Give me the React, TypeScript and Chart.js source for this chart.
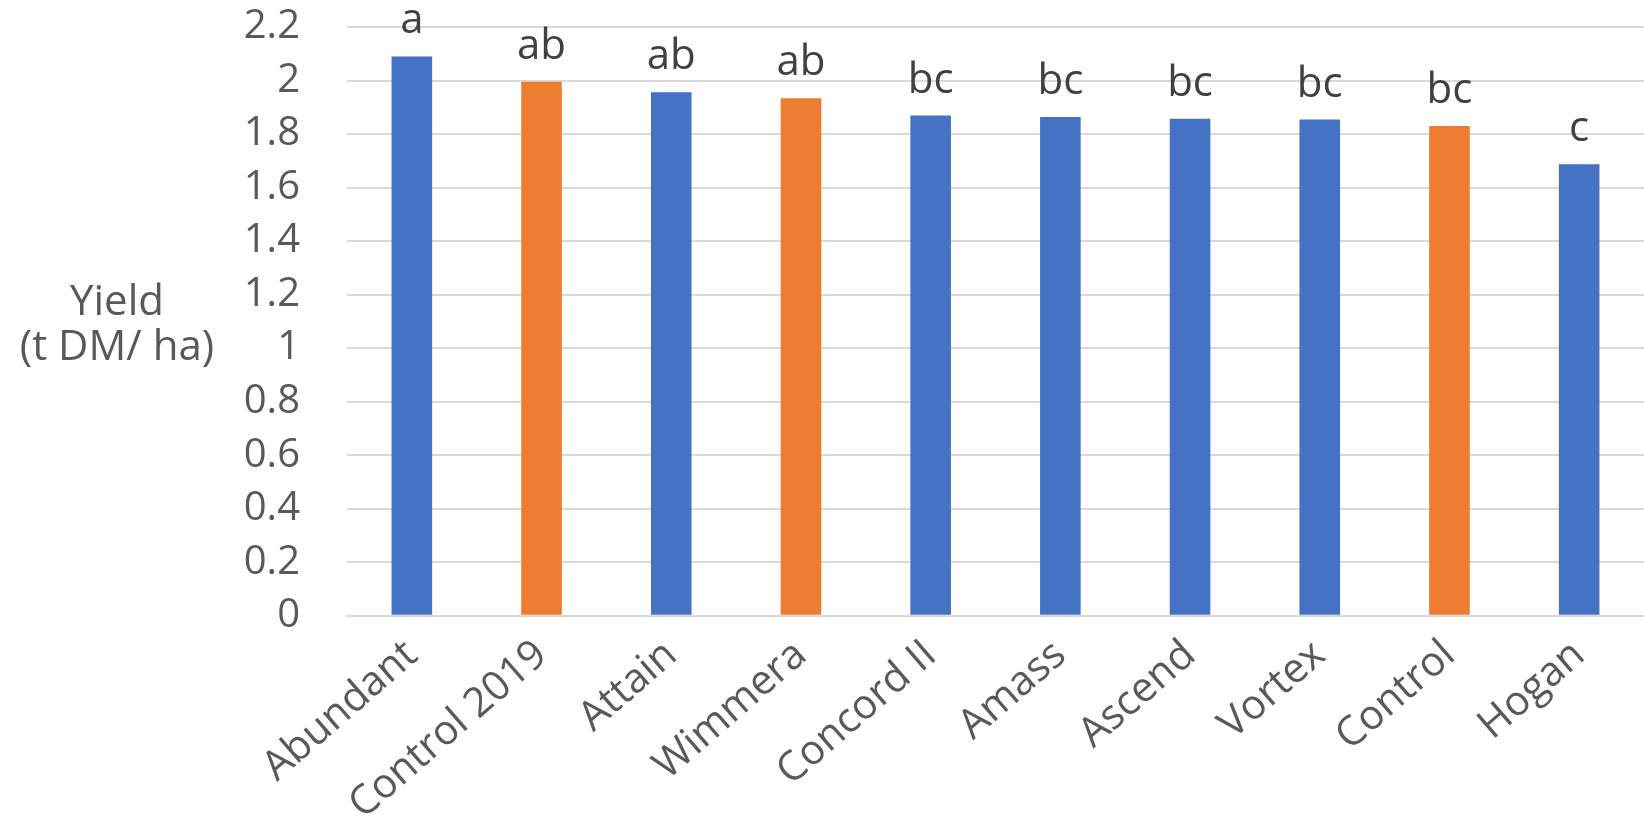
import React, { useEffect, useRef } from "react";
import { Chart, registerables } from "chart.js";

Chart.register(...registerables);

const categories = [
  "Abundant",
  "Control 2019",
  "Attain",
  "Wimmera",
  "Concord II",
  "Amass",
  "Ascend",
  "Vortex",
  "Control",
  "Hogan",
];
const yields = [2.09, 1.995, 1.956, 1.934, 1.869, 1.864, 1.857, 1.854, 1.83, 1.687];
const letters = ["a", "ab", "ab", "ab", "bc", "bc", "bc", "bc", "bc", "c"];
const isControl = [false, true, false, true, false, false, false, false, true, false];
const yTitleLines = ["Yield", "(t DM/ ha)"];

const BLUE = "#4472C4";
const ORANGE = "#ED7D31";
const FONT = "'Open Sans', 'Noto Sans', sans-serif";

const overlayPlugin = {
  id: "overlay",
  afterDatasetsDraw(chart: any) {
    const ctx = chart.ctx;
    const meta = chart.getDatasetMeta(0);
    ctx.save();
    ctx.fillStyle = "#404040";
    ctx.font = `42px ${FONT}`;
    ctx.textAlign = "center";
    ctx.textBaseline = "alphabetic";
    meta.data.forEach((bar: any, i: number) => {
      ctx.fillText(letters[i], bar.x, bar.y - 23);
    });
    ctx.restore();
  },
  afterDraw(chart: any) {
    const ctx = chart.ctx;
    const area = chart.chartArea;
    const mid = (area.top + area.bottom) / 2;
    ctx.save();
    ctx.fillStyle = "#595959";
    ctx.font = `42px ${FONT}`;
    ctx.textAlign = "center";
    ctx.textBaseline = "alphabetic";
    ctx.fillText(yTitleLines[0], 117, mid - 6);
    ctx.fillText(yTitleLines[1], 117, mid + 39);
    ctx.restore();
  },
};

export default function App() {
  const canvasRef = useRef<HTMLCanvasElement | null>(null);

  useEffect(() => {
    const canvas = canvasRef.current;
    if (!canvas) return;
    const chart = new Chart(canvas, {
      type: "bar",
      data: {
        labels: categories,
        datasets: [
          {
            data: yields,
            backgroundColor: isControl.map((c) => (c ? ORANGE : BLUE)),
            borderWidth: 0,
            barPercentage: 0.313,
            categoryPercentage: 1,
          },
        ],
      },
      options: {
        animation: false,
        responsive: true,
        maintainAspectRatio: false,
        layout: { padding: { top: 27, left: 0, right: 0, bottom: 0 } },
        plugins: {
          legend: { display: false },
          tooltip: { enabled: false },
        },
        scales: {
          x: {
            grid: { display: false, drawTicks: false },
            border: { display: true, color: "#d9d9d9", width: 2 },
            ticks: {
              color: "#595959",
              font: { family: FONT, size: 41 },
              minRotation: 41,
              maxRotation: 41,
              autoSkip: false,
              padding: 15,
            },
            afterFit: (scale: any) => {
              scale.height = 207.3;
            },
          },
          y: {
            min: 0,
            max: 2.2,
            grid: { color: "#d9d9d9", lineWidth: 2, drawTicks: false },
            border: { display: false },
            ticks: {
              stepSize: 0.2,
              autoSkip: false,
              color: "#595959",
              font: { family: FONT, size: 40 },
              padding: 47,
              callback: (v: any) => String(Math.round(Number(v) * 10) / 10),
            },
            afterFit: (scale: any) => {
              scale.width = 347;
              scale.paddingTop = 0;
              scale.paddingBottom = 0;
            },
          },
        },
      },
      plugins: [overlayPlugin],
    });
    return () => chart.destroy();
  }, []);

  return (
    <div style={{ position: "fixed", left: 0, top: 0, width: "100vw", height: "100vh", background: "#fff" }}>
      <canvas ref={canvasRef} />
    </div>
  );
}
